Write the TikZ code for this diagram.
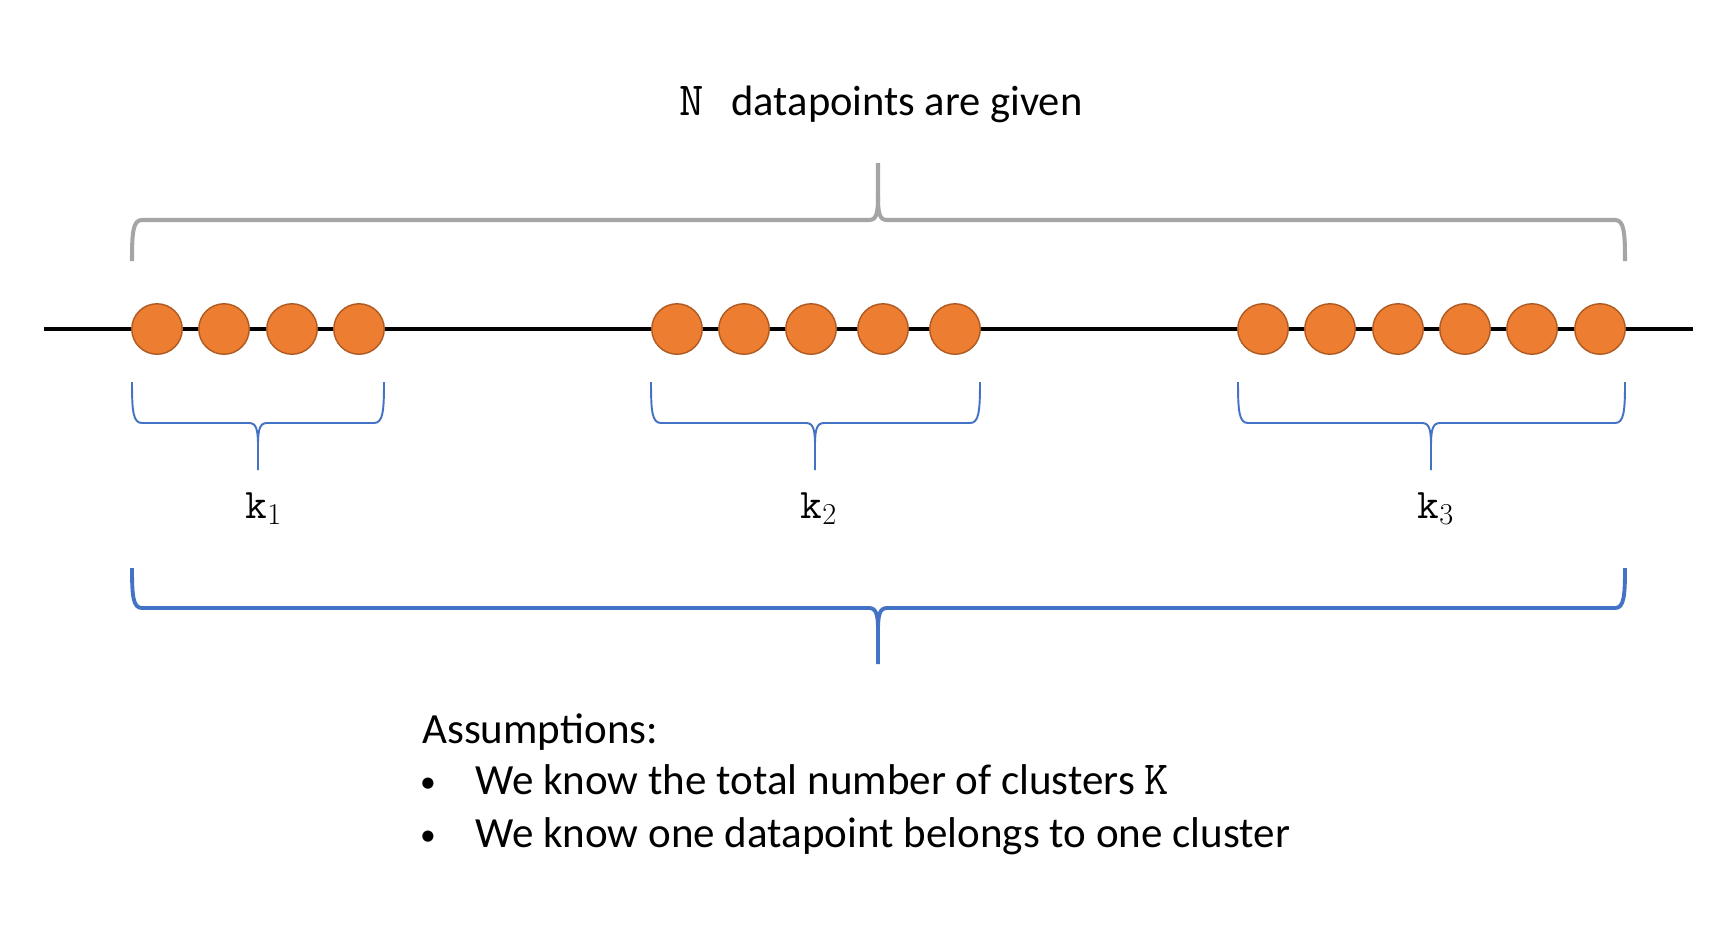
\documentclass[tikz,border=0pt]{standalone}
\usepackage{fontspec}
\setmainfont{Carlito}
\usetikzlibrary{positioning}

\definecolor{dotfill}{RGB}{237,125,49}
\definecolor{dotline}{RGB}{174,90,33}
\definecolor{bracegrey}{RGB}{165,165,165}
\definecolor{braceblue}{RGB}{68,114,196}

\tikzset{
  datapoint/.style={circle, fill=dotfill, draw=dotline, line width=0.8pt,
    minimum size=1.01cm, inner sep=0pt},
  axisline/.style={line width=2.8pt, black},
  greybrace/.style={bracegrey, line width=2.3pt},
  bluebrace/.style={braceblue, line width=2.2pt},
  smallbrace/.style={braceblue, line width=1.1pt},
  label text/.style={inner sep=0pt, font=\fontsize{24}{28}\selectfont},
  body text/.style={inner sep=0pt, font=\fontsize{24.5}{29}\selectfont},
}

% #2 left x, #3 mid x, #4 right x, #5 end y, #6 bar y, #7 tip y
\newcommand{\clusterbrace}[7][]{%
  \draw[#1] (#2,#5) .. controls (#2,{#6-12*sign(#7-#6)}) and ({#2+1},#6) .. ({#2+10},#6)
    -- ({#3-9},#6) .. controls ({#3-2},#6) and (#3,{#6+6*sign(#7-#6)}) .. (#3,{#6+22*sign(#7-#6)})
    -- (#3,#7);
  \draw[#1] (#4,#5) .. controls (#4,{#6-12*sign(#7-#6)}) and ({#4-1},#6) .. ({#4-10},#6)
    -- ({#3+9},#6) .. controls ({#3+2},#6) and (#3,{#6+6*sign(#7-#6)}) .. (#3,{#6+22*sign(#7-#6)});
}
\newcommand{\bigtt}[1]{{\fontsize{27}{29}\selectfont\texttt{#1}}}

\begin{document}
\begin{tikzpicture}[x=0.02cm, y=-0.02cm]
	\fill[white] (0,0) rectangle (1734,938);
	\useasboundingbox (0,0) rectangle (1734,938);

	% the line of datapoints
	\coordinate (lineL) at (44,329);
	\coordinate (lineR) at (1693,329);
	\draw[axisline] (lineL) -- (lineR);

	\foreach \cx [count=\i] in {157,224,292,359}
		\node[datapoint] (a\i) at (\cx,329) {};
	\foreach \cx [count=\i] in {677,744,811,883,955}
		\node[datapoint] (b\i) at (\cx,329) {};
	\foreach \cx [count=\i] in {1263,1330,1398,1465,1532,1600}
		\node[datapoint] (c\i) at (\cx,329) {};

	% braces
	\clusterbrace[greybrace]{132}{878}{1625}{261}{220}{163}
	\clusterbrace[smallbrace]{132}{258}{384}{382}{423}{470}
	\clusterbrace[smallbrace]{651}{815}{980}{382}{423}{470}
	\clusterbrace[smallbrace]{1238}{1431}{1625}{382}{423}{470}
	\clusterbrace[bluebrace]{132}{878}{1625}{568}{608}{664}

	% texts
	\node[body text, anchor=base, font=\fontsize{24.2}{29}\selectfont] (given) at (881,115)
		{\bigtt{N}\hspace{0.65em}datapoints are given};
	\node[label text, anchor=base] (k1) at (264,518) {$\mathtt{k}_1$};
	\node[label text, anchor=base] (k2) at (819,518) {$\mathtt{k}_2$};
	\node[label text, anchor=base] (k3) at (1436,518) {$\mathtt{k}_3$};

	\node[body text, anchor=base west] (assume) at (422,743) {Assumptions:};
	\node[body text, anchor=base, font=\fontsize{18}{20}\selectfont] (bul1) at (428,792) {\textbullet};
	\node[body text, anchor=base west] (item1) at (475,794) {We know the total number of clusters \bigtt{K}};
	\node[body text, anchor=base, font=\fontsize{18}{20}\selectfont] (bul2) at (428,845) {\textbullet};
	\node[body text, anchor=base west] (item2) at (475,847) {We know one datapoint belongs to one cluster};
\end{tikzpicture}
\end{document}
